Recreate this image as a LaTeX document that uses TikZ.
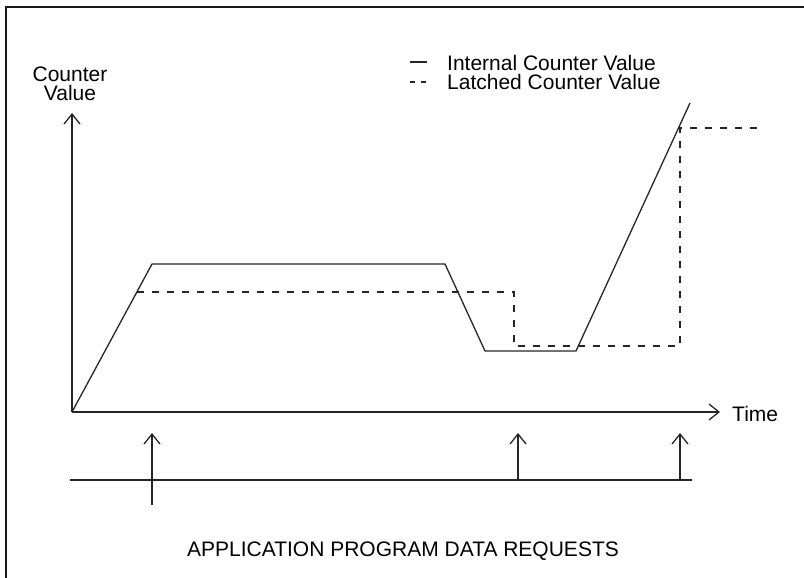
\documentclass[tikz,border=0pt]{standalone}
\usepackage{fontspec}
\setmainfont{Liberation Sans}
\usetikzlibrary{arrows.meta}
\begin{document}
\begin{tikzpicture}[x=1pt,y=-1pt,
  txt/.style={font=\fontsize{21}{19}\selectfont, inner sep=0pt},
  solidline/.style={line width=1.3pt, black!85},
  latched/.style={line width=1.3pt, black!85, dash pattern=on 7pt off 8pt},
  axis/.style={line width=1.3pt, black!85, -{Straight Barb[length=10pt,width=16pt,line width=1.3pt]}},
  frame/.style={line width=2.5pt, black!90}]
\useasboundingbox (0,0) rectangle (804,578);
% frame (top and left)
\draw[frame] (804,7) -- (6,7) -- (6,578);
% axes
\coordinate (O) at (72,412);
\coordinate (Ytip) at (72,113);
\coordinate (Xtip) at (720,412);
\draw[axis] (O) -- (Ytip);
\draw[axis] (O) -- (Xtip);
\node[txt, anchor=west] (time) at (732,414) {Time};
\node[txt, align=center] (cv) at (70,84) {Counter\\Value};
% legend
\coordinate (l1a) at (410,62); \coordinate (l1b) at (427,62);
\draw[solidline] (l1a) -- (l1b);
\node[txt, anchor=west] (leg1) at (447,63) {Internal Counter Value};
\coordinate (l2a) at (410,82); \coordinate (l2b) at (427,82);
\draw[line width=1.3pt, black!85, dash pattern=on 5pt off 6pt] (l2a) -- (l2b);
\node[txt, anchor=west] (leg2) at (447,82) {Latched Counter Value};
% internal counter value
\coordinate (a1) at (152,264);
\coordinate (a2) at (445,264);
\coordinate (a3) at (485,351);
\coordinate (a4) at (576,351);
\coordinate (a5) at (690,103);
\draw[solidline, line join=miter] (O) -- (a1) -- (a2) -- (a3) -- (a4) -- (a5);
% latched counter value
\coordinate (b0) at (137,292);
\coordinate (b1) at (514,292);
\coordinate (b2) at (514,346);
\coordinate (b3) at (680,346);
\coordinate (b4) at (680,128);
\coordinate (b5) at (760,128);
\draw[latched] (b0) -- (b1) -- (b2) -- (b3) -- (b4) -- (b5);
% data requests
\coordinate (r0) at (70,480);
\coordinate (r1) at (692,480);
\draw[solidline] (r0) -- (r1);
\coordinate (q1s) at (152,505); \coordinate (q1t) at (152,433);
\coordinate (q2s) at (518,480); \coordinate (q2t) at (518,433);
\coordinate (q3s) at (680,480); \coordinate (q3t) at (680,433);
\draw[axis] (q1s) -- (q1t);
\draw[axis] (q2s) -- (q2t);
\draw[axis] (q3s) -- (q3t);
\node[txt] (apd) at (403,551) {APPLICATION PROGRAM DATA REQUESTS};
\end{tikzpicture}
\end{document}
